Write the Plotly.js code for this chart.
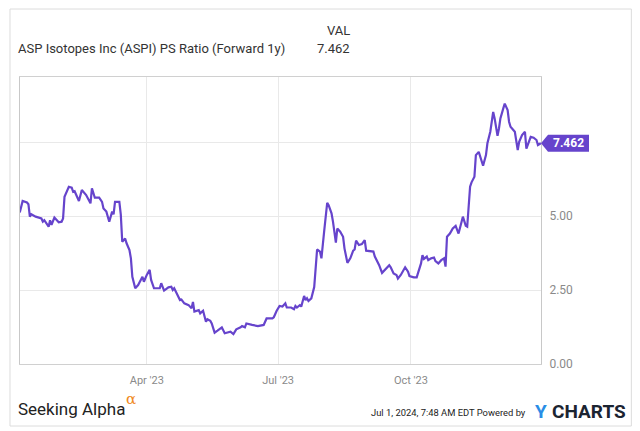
<!DOCTYPE html>
<html>
<head>
<meta charset="utf-8">
<script src="https://cdn.plot.ly/plotly-3.0.1.min.js"></script>
<style>
html,body{margin:0;padding:0;background:#fff;}
#chart{width:640px;height:431px;}
</style>
</head>
<body>
<div id="chart"></div>
<script>
// ---- data ----
const dates = [
"2023-01-03","2023-01-05","2023-01-08","2023-01-09","2023-01-10","2023-01-11","2023-01-14","2023-01-18","2023-01-19","2023-01-20",
"2023-01-23","2023-01-24","2023-01-25","2023-01-27","2023-01-30","2023-02-01","2023-02-02","2023-02-03","2023-02-06","2023-02-08",
"2023-02-09","2023-02-10","2023-02-13","2023-02-15","2023-02-18","2023-02-21","2023-02-22","2023-02-24","2023-02-27","2023-03-01",
"2023-03-02","2023-03-04","2023-03-06","2023-03-08","2023-03-09","2023-03-10","2023-03-13","2023-03-14","2023-03-15","2023-03-17",
"2023-03-18","2023-03-20","2023-03-21","2023-03-22","2023-03-24","2023-03-26","2023-03-29","2023-03-30","2023-04-01","2023-04-03",
"2023-04-04","2023-04-06","2023-04-10","2023-04-11","2023-04-13","2023-04-16","2023-04-18","2023-04-19","2023-04-20","2023-04-24",
"2023-04-25","2023-04-27","2023-04-30","2023-05-02","2023-05-03","2023-05-04","2023-05-07","2023-05-08","2023-05-10","2023-05-12",
"2023-05-13","2023-05-15","2023-05-16","2023-05-18","2023-05-20","2023-05-21","2023-05-23","2023-05-25","2023-05-28","2023-05-29",
"2023-05-31","2023-06-02","2023-06-05","2023-06-06","2023-06-08","2023-06-09","2023-06-13","2023-06-17","2023-06-21","2023-06-23",
"2023-06-27","2023-06-28","2023-06-30","2023-07-02","2023-07-04","2023-07-06","2023-07-07","2023-07-10","2023-07-12","2023-07-13",
"2023-07-14","2023-07-16","2023-07-17","2023-07-19","2023-07-20","2023-07-21","2023-07-22","2023-07-23","2023-07-24","2023-07-26",
"2023-07-27","2023-07-28","2023-07-30","2023-07-31","2023-08-02","2023-08-04","2023-08-05","2023-08-07","2023-08-08","2023-08-09",
"2023-08-10","2023-08-11","2023-08-13","2023-08-15","2023-08-16","2023-08-18","2023-08-20","2023-08-22","2023-08-23","2023-08-24",
"2023-08-26","2023-08-28","2023-08-30","2023-08-31","2023-09-03","2023-09-05","2023-09-06","2023-09-09","2023-09-11","2023-09-13",
"2023-09-16","2023-09-17","2023-09-19","2023-09-21","2023-09-22","2023-09-24","2023-09-27","2023-09-29","2023-09-30","2023-10-03",
"2023-10-05","2023-10-08","2023-10-09","2023-10-10","2023-10-12","2023-10-13","2023-10-15","2023-10-17","2023-10-18","2023-10-20",
"2023-10-22","2023-10-24","2023-10-25","2023-10-26","2023-10-28","2023-10-30","2023-11-01","2023-11-03","2023-11-05","2023-11-06",
"2023-11-08","2023-11-09","2023-11-11","2023-11-12","2023-11-14","2023-11-15","2023-11-17","2023-11-18","2023-11-20","2023-11-22",
"2023-11-23","2023-11-25","2023-11-26","2023-11-27","2023-11-28","2023-11-30","2023-12-01","2023-12-02","2023-12-04","2023-12-05",
"2023-12-07","2023-12-08","2023-12-09","2023-12-11","2023-12-12","2023-12-14","2023-12-15","2023-12-17","2023-12-19","2023-12-20",
"2023-12-23","2023-12-25","2023-12-27","2023-12-28","2023-12-30"
];
const psRatio = [
5.12,5.51,5.46,5.40,4.98,5.06,4.98,4.92,4.81,4.86,
4.64,4.86,4.70,4.95,4.79,4.81,4.92,5.65,5.99,5.96,
5.82,5.84,5.51,5.88,5.71,5.43,5.94,5.62,5.62,5.48,
5.26,5.15,4.81,5.15,5.06,5.48,5.48,5.05,4.13,4.24,
4.08,3.85,3.57,2.95,2.56,2.67,2.95,2.78,3.01,3.18,
2.84,2.56,2.56,2.73,2.48,2.59,2.61,2.50,2.56,2.16,
2.18,2.05,1.99,1.88,2.10,1.77,1.82,1.71,1.80,1.43,
1.51,1.46,1.37,1.06,1.13,1.17,1.24,1.04,1.06,1.09,
1.01,1.17,1.24,1.28,1.24,1.37,1.32,1.28,1.32,1.54,
1.54,1.58,1.80,1.96,1.94,2.05,1.91,1.91,1.85,1.96,
1.91,1.99,1.94,2.30,2.16,2.22,2.13,2.18,2.22,2.60,
3.18,3.87,3.80,3.57,4.53,5.45,5.37,5.09,4.81,4.47,
4.10,4.58,4.47,4.30,3.90,3.42,3.57,3.83,3.87,4.17,
4.02,4.05,4.19,3.83,3.80,3.80,3.63,3.34,3.08,3.18,
3.34,3.27,3.06,3.01,2.89,3.01,3.27,3.12,2.97,2.93,
2.93,3.40,3.68,3.55,3.63,3.51,3.57,3.60,3.48,3.40,
3.51,3.57,3.29,4.30,4.41,4.58,4.67,4.41,4.75,4.98,
4.67,4.64,5.99,6.14,6.33,7.06,7.17,7.00,6.70,7.06,
7.46,7.85,8.24,8.52,8.30,7.71,7.96,8.30,8.64,8.80,
8.58,8.19,8.02,7.91,7.85,7.23,7.51,7.74,7.85,7.28,
7.68,7.65,7.57,7.40,7.462
];
const yTicks = [0, 2.5, 5, 7.5];
const xTickVals = ["2023-04-01","2023-07-01","2023-10-01"];
const xTickText = ["Apr '23","Jul '23","Oct '23"];
const seriesName = "ASP Isotopes Inc (ASPI) PS Ratio (Forward 1y)";
const lastValue = "7.462";

// ---- layout geometry (pixels) ----
const W = 640, H = 431;
const L = 20, R = 540.7, T = 77, B = 364;
const pw = R - L, ph = B - T;
const px = x => (x - L) / pw;
const py = y => (B - y) / ph;

const purple = '#6644cc';

const trace = {
  x: dates, y: psRatio, type: 'scatter', mode: 'lines',
  line: {color: purple, width: 2.2},
  hoverinfo: 'skip', showlegend: false
};

const layout = {
  width: W, height: H,
  margin: {l: L, r: W - R, t: T, b: H - B, pad: 0},
  paper_bgcolor: '#fff', plot_bgcolor: '#fff',
  showlegend: false,
  font: {family: 'Roboto, sans-serif', color: '#333'},
  xaxis: {
    type: 'date', range: ['2023-01-03 04:00', '2023-12-30 03:00'],
    tickvals: xTickVals, ticktext: xTickText,
    showgrid: true, gridcolor: '#e9e9e9', gridwidth: 1,
    showline: true, linecolor: '#d0d0d0', linewidth: 1, mirror: true,
    ticks: '', zeroline: false, ticklabelstandoff: 6,
    tickfont: {family: 'Roboto, sans-serif', size: 11, color: '#8a8a8a'}
  },
  yaxis: {
    side: 'right', range: [0, 9.7],
    tickvals: yTicks, tickformat: '.2f',
    showgrid: true, gridcolor: '#e9e9e9', gridwidth: 1,
    showline: true, linecolor: '#c8c8c8', linewidth: 1, mirror: true,
    ticks: '', zeroline: false, ticklabelstandoff: 5,
    tickfont: {family: 'Roboto, sans-serif', size: 12, color: '#8a8a8a'}
  },
  shapes: [
    // outer frame
    {type: 'rect', xref: 'paper', yref: 'paper', x0: px(10), x1: px(631), y0: py(426), y1: py(9),
     line: {color: '#dcdcdc', width: 1}, fillcolor: 'rgba(0,0,0,0)', layer: 'below'},
    // last value flag
    {type: 'path', xref: 'paper', yref: 'y', xsizemode: 'pixel', ysizemode: 'pixel',
     xanchor: 1, yanchor: 7.462,
     path: 'M0,0 L7,8.5 L48,8.5 L48,-8.5 L7,-8.5 Z',
     fillcolor: purple, line: {color: purple, width: 0}, layer: 'above'}
  ],
  annotations: [
    {text: seriesName, xref: 'paper', yref: 'paper', x: px(16), y: py(49), xanchor: 'left', yanchor: 'middle',
     showarrow: false, font: {family: 'Roboto, sans-serif', size: 13, color: '#333'}},
    {text: 'VAL', xref: 'paper', yref: 'paper', x: px(352), y: py(31), xanchor: 'right', yanchor: 'middle',
     showarrow: false, font: {family: 'Roboto, sans-serif', size: 13, color: '#333'}},
    {text: lastValue, xref: 'paper', yref: 'paper', x: px(352), y: py(49), xanchor: 'right', yanchor: 'middle',
     showarrow: false, font: {family: 'Roboto, sans-serif', size: 13, color: '#333'}},
    {text: '<b>' + lastValue + '</b>', xref: 'paper', yref: 'y', x: 1, y: 7.462, xshift: 27.5, xanchor: 'center', yanchor: 'middle',
     showarrow: false, font: {family: 'Roboto, sans-serif', size: 12, color: '#fff'}},
    {text: 'Seeking Alpha', xref: 'paper', yref: 'paper', x: px(16), y: py(409), xanchor: 'left', yanchor: 'middle',
     showarrow: false, font: {family: 'Roboto, sans-serif', size: 17, color: '#222'}},
    {text: 'α', xref: 'paper', yref: 'paper', x: px(123.5), y: py(399), xanchor: 'left', yanchor: 'middle',
     showarrow: false, font: {family: 'DejaVu Serif, serif', size: 15, color: '#f08a24'}},
    {text: 'Jul 1, 2024, 7:48 AM EDT Powered by', xref: 'paper', yref: 'paper', x: px(528), y: py(412), xanchor: 'right', yanchor: 'middle',
     showarrow: false, font: {family: 'Roboto, sans-serif', size: 9.4, color: '#222'}},
    {text: '<b>Y</b>', xref: 'paper', yref: 'paper', x: px(533), y: py(411), xanchor: 'left', yanchor: 'middle',
     showarrow: false, font: {family: 'Roboto, sans-serif', size: 19, color: '#2a8de6'}},
    {text: '<b>CHARTS</b>', xref: 'paper', yref: 'paper', x: px(628), y: py(411), xanchor: 'right', yanchor: 'middle',
     showarrow: false, font: {family: 'Roboto, sans-serif', size: 19, color: '#1b2431'}}
  ]
};

Plotly.newPlot('chart', [trace], layout, {displayModeBar: false, staticPlot: true});
</script>
</body>
</html>
